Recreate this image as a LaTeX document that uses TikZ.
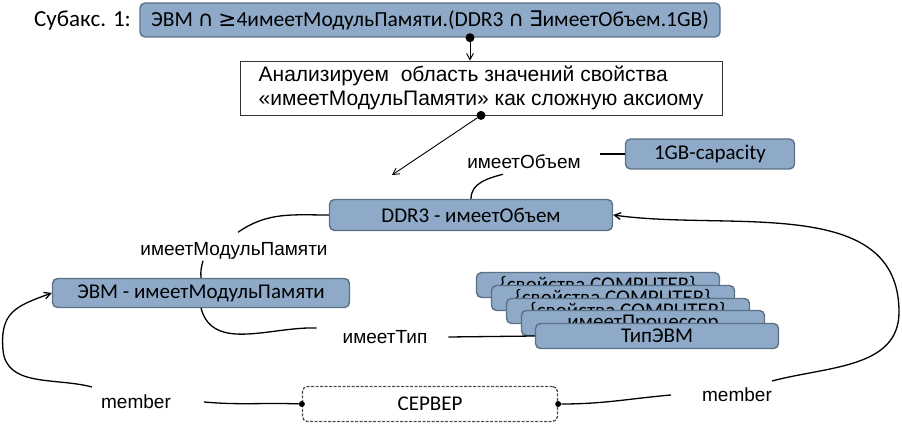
\documentclass[tikz,border=0pt]{standalone}
\usepackage{fontspec}
\setmainfont{Carlito}
\newfontfamily\arialf{Liberation Sans}
\newfontfamily\symf{DejaVu Sans}
\usetikzlibrary{arrows.meta, calc, positioning}
\definecolor{boxfill}{RGB}{142,170,200}
\definecolor{boxline}{RGB}{92,112,134}

\begin{document}
\begin{tikzpicture}[
  x=1pt, y=-1pt,
  font=\fontsize{21}{25}\selectfont,
  >={Straight Barb[length=2.2mm, width=2.4mm]},
  box/.style={draw=boxline, fill=boxfill, line width=1.4pt, rounded corners=5pt, inner sep=0pt},
  stk/.style={box, minimum width=243pt, minimum height=25pt},
  lbl/.style={font=\arialf\fontsize{19}{22}\selectfont, inner sep=1pt},
  dot/.style={circle, fill=black, inner sep=0pt, minimum size=9pt},
  link/.style={line width=1.3pt},
  arr/.style={->, line width=0.9pt},
]
\useasboundingbox (0,0) rectangle (902,427);

% ============ AXIOM ============
\node[anchor=west, inner sep=0pt, font=\fontsize{23}{27}\selectfont] (sub) at (34,21) {Субакс. 1:};
\node[box, minimum width=580pt, minimum height=34pt, font=\fontsize{21.5}{25}\selectfont] (axiom) at (430,20)
  {ЭВМ {\symf ∩} {\symf ≥}4имеетМодульПамяти.(DDR3 {\symf ∩} {\symf ∃}имеетОбъем.1GB)};

\node[draw=black!80, fill=white, line width=0.8pt, align=left,
      minimum width=482pt, minimum height=54pt,
      font=\arialf\fontsize{21}{24}\selectfont] (anal) at (481,88)
  {Анализируем\ \ область значений свойства\\«имеетМодульПамяти» как сложную аксиому};

\node[dot] (dot1) at ([xshift=40pt]axiom.south) {};
\draw[arr] (dot1) -- (dot1 |- anal.north);
\node[dot] (dot2) at (anal.south) {};
\coordinate (tip1) at (392,175);
\draw[arr] (dot2) -- (tip1);

% ============ DDR3 ============
\node[lbl] (hasvol) at (524,162) {имеетОбъем};
\node[box, minimum width=169pt, minimum height=30pt] (gb) at (710,154) {1GB-capacity};
\node[box, minimum width=283pt, minimum height=31pt] (ddr) at (471,215) {DDR3 - имеетОбъем};
\draw[link] (gb.west) -- ($(gb.west -| hasvol.east)+(18,0)$);
\draw[link] ([xshift=-21pt,yshift=-4pt]hasvol.south) to[out=195,in=90] (ddr.north);

% ============ EVM ============
\node[lbl] (hasmem) at (234,251) {имеетМодульПамяти};
\node[box, minimum width=297pt, minimum height=29pt] (evm) at (201,293) {ЭВМ - имеетМодульПамяти};
\draw[link] ([xshift=4pt,yshift=9pt]hasmem.north) to[out=35,in=180] (ddr.west);
\draw[link] ([xshift=-31pt]hasmem.south) to[out=-105,in=95] (evm.north);

\node[lbl] (hastype) at (385,337) {имеетТип};
\draw[link] (evm.south) to[out=-75,in=178] ($(hastype.west)+(-25,-9)$);

% stacked property boxes
\node[stk] (stk1) at (598,285) {\{свойства COMPUTER\}};
\node[stk] (stk2) at (613,298) {\{свойства COMPUTER\}};
\node[stk] (stk3) at (628,311) {\{свойства COMPUTER\}};
\node[stk] (stk4) at (643,323) {имеетПроцессор};
\node[stk] (stk5) at (657,336) {ТипЭВМ};
\draw[link] ([xshift=20pt]hastype.east) -- (stk5.west);

% ============ SERVER ============
\node[draw=black!70, dash pattern=on 3pt off 1.5pt, rounded corners=5pt, line width=1.3pt,
      minimum width=255pt, minimum height=35pt] (srv) at (430,404) {СЕРВЕР};
\node[dot, minimum size=6pt] (sdl) at (srv.west) {};
\node[dot, minimum size=6pt] (sdr) at (srv.east) {};
\node[lbl] (memL) at (136,402) {member};
\node[lbl] (memR) at (737,395) {member};
\draw[link] ([xshift=32pt]memL.east) to[out=-5,in=178] (sdl);
\draw[link] (sdr) to[out=0,in=185] ([xshift=-30pt]memR.west);

% member loops
\coordinate (mL) at (92,387);
\coordinate (lfar) at (3,350);
\coordinate (mR) at (772,381);
\coordinate (rfar) at (899,312);
\draw[arr, link] (mL) to[out=165,in=-85] (lfar) to[out=95,in=200,looseness=1.3] (evm.west);
\draw[arr, link] (mR) to[out=15,in=-90] (rfar) to[out=90,in=-8] (ddr.east);

\end{tikzpicture}
\end{document}
